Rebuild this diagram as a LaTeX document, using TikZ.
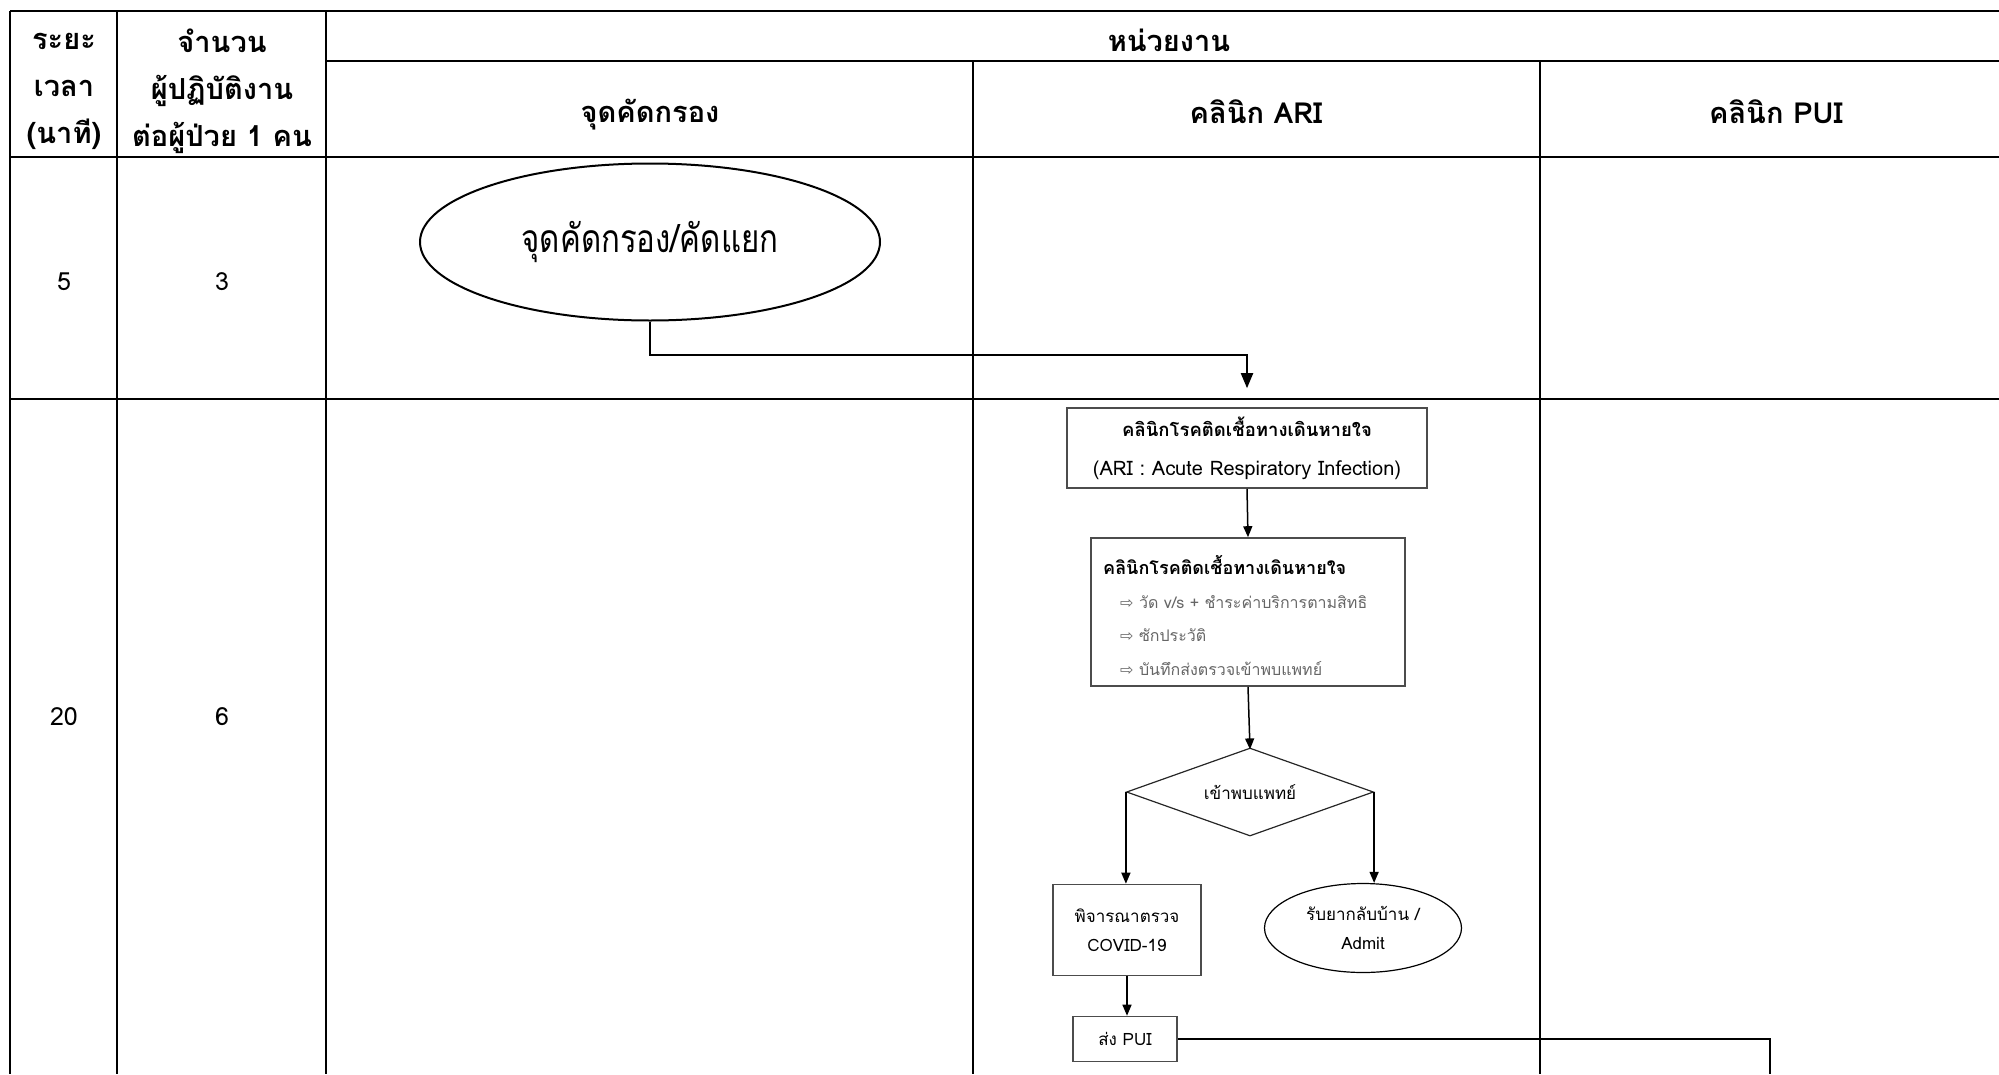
\documentclass[tikz,border=0pt]{standalone}
\usepackage{fontspec}
\setmainfont{Loma}[Script=Thai]
\newfontfamily\thinthai[Script=Thai,FakeStretch=0.8]{Loma}
\newfontfamily\symfont{DejaVu Sans}
\usetikzlibrary{arrows.meta,shapes.geometric}

\begin{document}
\begin{tikzpicture}[
  x=1pt, y=-1pt,
  grid/.style={line width=2.5pt, draw=black},
  hd/.style={font=\bfseries\fontsize{29}{47}\selectfont, align=center, inner sep=0pt},
  val/.style={font=\fontsize{25}{30}\selectfont, inner sep=0pt},
  box/.style={rectangle, draw=black!70, line width=1.6pt, inner sep=0pt, align=center},
  oval/.style={ellipse, draw=black, line width=1.4pt, inner sep=0pt, align=center},
  dia/.style={diamond, draw=black!85, line width=1.2pt, inner sep=0pt, aspect=2.8},
  btxt/.style={font=\bfseries\fontsize{18}{20}\selectfont, inner sep=0pt},
  itm/.style={font=\fontsize{16}{18}\selectfont, text=black!60, inner sep=0pt},
  ftxt/.style={font=\fontsize{17}{29}\selectfont},
  arr/.style={line width=1.5pt, draw=black, -{Triangle[width=9pt,length=11pt]}},
  link/.style={line width=1.5pt, draw=black}
]
\useasboundingbox (0,0) rectangle (1999,1074);

% ===================== TABLE GRID =====================
\draw[grid] (10,11) -- (1999,11);
\draw[grid] (326,61) -- (1999,61);
\draw[grid] (10,157) -- (1999,157);
\draw[grid] (10,399) -- (1999,399);

\draw[grid] (10,11) -- (10,1074);
\draw[grid] (117,11) -- (117,1074);
\draw[grid] (326,11) -- (326,1074);
\draw[grid] (973,61) -- (973,1074);
\draw[grid] (1540,61) -- (1540,1074);

% Header
\node[hd] (hTime)   at (64,91)    {ระยะ\\เวลา\\(นาที)};
\node[hd] (hStaff)  at (222,91)   {จำนวน\\ผู้ปฏิบัติงาน\\ต่อผู้ป่วย 1 คน};
\node[hd] (hUnit)   at (1169,40)  {หน่วยงาน};
\node[hd] (hScreen) at (650,115)  {จุดคัดกรอง};
\node[hd] (hAri)    at (1256,112) {คลินิก ARI};
\node[hd] (hPui)    at (1776,112) {คลินิก PUI};

% Row values
\node[val] (t1) at (64,282)  {5};
\node[val] (n1) at (222,282) {3};
\node[val] (t2) at (64,717)  {20};
\node[val] (n2) at (222,717) {6};

% ===================== FLOW =====================
\node[oval, minimum width=460pt, minimum height=157pt, line width=2pt,
      font=\thinthai\fontsize{39}{39}\selectfont] (screen) at (650,242) {จุดคัดกรอง/คัดแยก};

\node[box, minimum width=360pt, minimum height=80pt,
      font=\fontsize{18.5}{39}\selectfont] (ari) at (1247,448)
  {{\bfseries คลินิกโรคติดเชื้อทางเดินหายใจ}\\{\fontsize{20}{39}\selectfont (ARI : Acute Respiratory Infection)}};

\node[box, minimum width=314pt, minimum height=148pt] (assess) at (1248,612) {};
\node[btxt, anchor=west] (asT) at (1103,565) {คลินิกโรคติดเชื้อทางเดินหายใจ};
\node[itm, anchor=west]  (as1) at (1120,602) {{\symfont ⇨} วัด v/s + ชำระค่าบริการตามสิทธิ};
\node[itm, anchor=west]  (as2) at (1120,635) {{\symfont ⇨} ซักประวัติ};
\node[itm, anchor=west]  (as3) at (1120,669) {{\symfont ⇨} บันทึกส่งตรวจเข้าพบแพทย์};

\node[dia, minimum width=247pt, minimum height=88pt,
      font=\fontsize{17}{20}\selectfont] (doc) at (1250,792) {เข้าพบแพทย์};

\node[box, ftxt, minimum width=148pt, minimum height=91pt] (covid) at (1127,930) {พิจารณาตรวจ\\COVID-19};
\node[oval, ftxt, minimum width=197pt, minimum height=89pt, line width=1.2pt] (home) at (1363,928) {รับยากลับบ้าน /\\Admit};
\node[box, ftxt, minimum width=104pt, minimum height=45pt] (pui) at (1125,1039) {ส่ง PUI};

\coordinate (puiEnd) at (1770,1074);

% Connectors
\draw[arr, line width=2pt, -{Triangle[width=12pt,length=15pt]}, shorten >=19pt]
  (screen.south) -- ++(0,33) -| (ari.north);
\draw[arr] (ari.south) -- (assess.north);
\draw[arr] (assess.south) -- ([yshift=-2pt]doc.north);
\draw[arr] (doc.west) -- (doc.west |- covid.north);
\draw[arr] (doc.east) -- (doc.east |- home.north);
\draw[arr] (covid.south) -- (covid.south |- pui.north);
\draw[link] (pui.east) -| (puiEnd);

\end{tikzpicture}
\end{document}
